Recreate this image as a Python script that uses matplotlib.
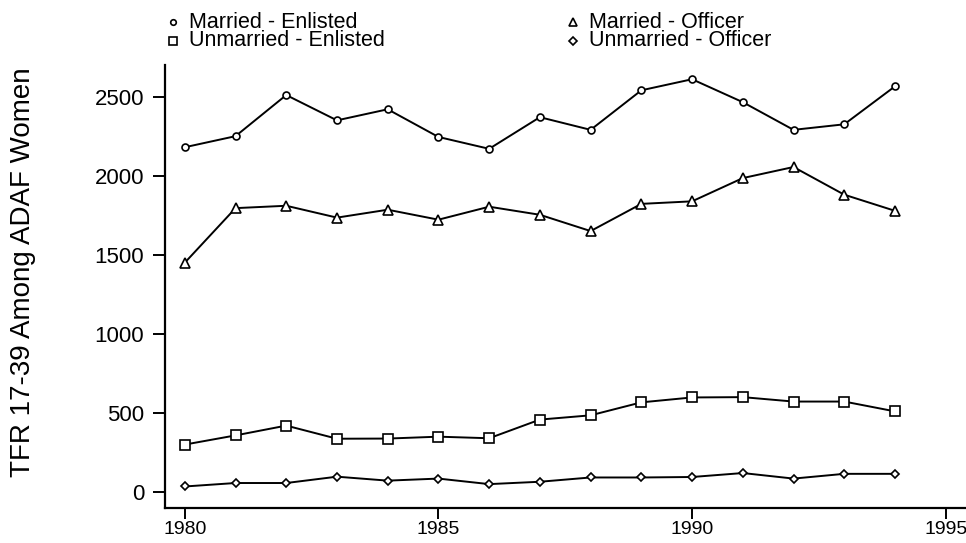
import numpy as np
import matplotlib.pyplot as plt
from matplotlib.lines import Line2D

plt.rcParams['font.family'] = ['Liberation Sans', 'DejaVu Sans']

years = np.arange(1980, 1995)
married_enlisted = [2180, 2250, 2510, 2350, 2420, 2245, 2170, 2370, 2290, 2540, 2610, 2465, 2290, 2325, 2565]
married_officer = [1450, 1795, 1810, 1735, 1785, 1722, 1804, 1753, 1650, 1822, 1838, 1985, 2055, 1880, 1778]
unmarried_enlisted = [300, 358, 420, 337, 338, 350, 340, 458, 485, 567, 598, 600, 572, 572, 510]
unmarried_officer = [35, 57, 57, 97, 72, 85, 50, 65, 92, 92, 95, 120, 85, 115, 115]

W, H = 966, 543
fig = plt.figure(figsize=(W / 100, H / 100), dpi=100)
ax = fig.add_axes([165 / W, 1 - 508 / H, 1 - 165 / W, (508 - 65) / H])

mk = dict(color='black', lw=1.4, mfc='white', mec='black', mew=1.2)
series = [
    (married_enlisted, 'o', 5, 'Married - Enlisted'),
    (married_officer, '^', 6.5, 'Married - Officer'),
    (unmarried_enlisted, 's', 6.5, 'Unmarried - Enlisted'),
    (unmarried_officer, 'D', 4.5, 'Unmarried - Officer'),
]
for vals, m, s, lab in series:
    ax.plot(years, vals, marker=m, ms=s, label=lab, **mk)

ax.set_xlim(1979.61, 1995.4)
ax.set_ylim(-101, 2700)
ax.set_xticks([1980, 1985, 1990, 1995])
ax.set_yticks([0, 500, 1000, 1500, 2000, 2500])
ax.spines['top'].set_visible(False)
ax.spines['right'].set_visible(False)
ax.spines['left'].set_linewidth(1.6)
ax.spines['bottom'].set_linewidth(1.6)
ax.tick_params(axis='y', direction='out', length=9, width=1.4, labelsize=16, pad=6)
ax.tick_params(axis='x', direction='out', length=8, width=1.4, labelsize=14, pad=1)
fig.text(23 / W, 1 - 272 / H, 'TFR 17-39 Among ADAF Women', rotation=90,
         fontsize=20, ha='center', va='center')

# legend drawn by hand: marker only, two columns
leg_pos = {'Married - Enlisted': (173, 22), 'Unmarried - Enlisted': (173, 41),
           'Married - Officer': (573, 22), 'Unmarried - Officer': (573, 41)}
for vals, m, s, lab in series:
    px, py = leg_pos[lab]
    fig.add_artist(Line2D([px / W], [1 - py / H], marker=m, ms=s * 0.8, ls='none',
                          mfc='white', mec='black', mew=1.2))
    fig.text((px + 16) / W, 1 - py / H, lab, fontsize=15.5, ha='left', va='center')

fig.savefig('out.png', dpi=100)
